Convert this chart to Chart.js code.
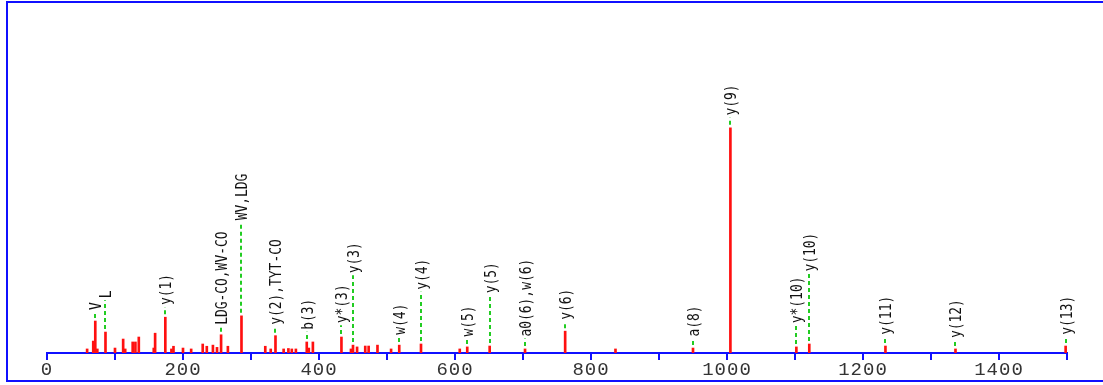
<!DOCTYPE html>
<html>
<head>
<meta charset="utf-8">
<script src="https://cdn.jsdelivr.net/npm/chart.js@4.4.1/dist/chart.umd.min.js"></script>
<style>
  html, body { margin: 0; padding: 0; background: #fff; overflow: hidden; }
  #wrap { position: relative; width: 1103px; height: 385px; }
</style>
</head>
<body>
<div id="wrap"><canvas id="spectrum" width="1103" height="385"></canvas></div>
<script>
// Fragment spectrum: peak m/z and relative intensity (%)
const peakMz = [
  59, 68, 71, 74, 86, 100, 112, 115, 126, 130, 135, 157, 159, 174, 183, 186,
  200, 212, 229, 235, 244, 250, 256, 266, 286, 321, 329, 336, 348, 355, 360, 366,
  382, 385, 391, 433, 447, 450, 456, 468, 473, 486, 506, 518, 550, 607, 618, 651,
  703, 762, 836, 950, 1005, 1102, 1121, 1233, 1336, 1498
];
const peakIntensity = [
  1.8, 5.3, 14.2, 1.8, 9.3, 2.2, 6.2, 1.8, 4.9, 4.9, 7.1, 2.2, 8.8, 15.9, 1.8, 3.0,
  2.2, 1.8, 4.0, 3.0, 3.5, 2.5, 8.1, 3.0, 16.5, 3.0, 1.8, 7.7, 1.8, 2.0, 1.8, 1.8,
  4.9, 2.2, 4.9, 7.1, 1.8, 3.5, 2.7, 3.1, 3.1, 3.5, 1.8, 3.5, 4.0, 1.8, 2.7, 3.1,
  1.8, 9.7, 1.8, 2.2, 100, 2.7, 4.0, 3.1, 1.8, 3.1
];

// Assigned fragment ions: m/z of the matched peak, ion name, and label elevation
const ionMz = [71, 86, 174, 256, 286, 336, 382, 433, 450, 518, 550, 618, 651, 703, 762, 950, 1005, 1102, 1121, 1233, 1336, 1498];
const ionLabel = ['V', 'L', 'y(1)', 'LDG-CO,WV-CO', 'WV,LDG', 'y(2),TYT-CO', 'b(3)', 'y*(3)', 'y(3)', 'w(4)', 'y(4)', 'w(5)', 'y(5)', 'a0(6),w(6)', 'y(6)', 'a(8)', 'y(9)', 'y*(10)', 'y(10)', 'y(11)', 'y(12)', 'y(13)'];
const ionLabelLevel = [18.6, 23.9, 20.9, 12.1, 58.5, 12.1, 9.9, 12.8, 35.0, 7.7, 27.6, 6.9, 26.1, 6.9, 14.3, 6.9, 105, 12.8, 35.7, 7.7, 6.2, 7.7];

// m/z axis
const mzMin = 0, mzMax = 1500, mzStep = 100, mzLabelStep = 200, mzLabelMax = 1400;

const BLUE = '#1010ff';
const RED = '#ff1010';
const GREEN = '#22cc22';

// Blue frame along the left, top and bottom of the drawing
const framePlugin = {
  id: 'frame',
  beforeDraw(chart) {
    const ctx = chart.ctx;
    ctx.save();
    ctx.fillStyle = BLUE;
    ctx.fillRect(6, 1, chart.width - 6, 2);
    ctx.fillRect(6, 1, 2, 381);
    ctx.fillRect(6, 380, chart.width - 6, 2);
    ctx.restore();
    ctx.letterSpacing = '1px';
  }
};

// Green dashed leader lines and rotated ion names above assigned peaks
const ionPlugin = {
  id: 'ions',
  afterDatasetsDraw(chart) {
    const ctx = chart.ctx;
    const xs = chart.scales.x, ys = chart.scales.y;
    ctx.save();
    ctx.letterSpacing = '0px';
    ionMz.forEach((mz, i) => {
      const idx = peakMz.indexOf(mz);
      const inten = idx >= 0 ? peakIntensity[idx] : 0;
      const x = Math.round(xs.getPixelForValue(mz));
      const yBar = ys.getPixelForValue(inten) - 3;
      const yLab = ys.getPixelForValue(ionLabelLevel[i]);
      ctx.strokeStyle = GREEN;
      ctx.lineWidth = 2;
      ctx.setLineDash([4, 3]);
      ctx.beginPath();
      ctx.moveTo(x, yBar);
      ctx.lineTo(x, yLab + 1);
      ctx.stroke();
      ctx.setLineDash([]);
      ctx.save();
      ctx.translate(x + 2, yLab - 1);
      ctx.rotate(-Math.PI / 2);
      ctx.scale(0.86, 1);
      ctx.fillStyle = '#111';
      ctx.font = '15px "DejaVu Sans Mono"';
      ctx.textAlign = 'left';
      ctx.textBaseline = 'middle';
      ctx.fillText(ionLabel[i], 0, 0);
      ctx.restore();
    });
    ctx.restore();
  }
};

new Chart(document.getElementById('spectrum'), {
  type: 'bar',
  data: {
    datasets: [{
      data: peakMz.map((mz, i) => ({ x: mz, y: peakIntensity[i] })),
      backgroundColor: RED,
      borderWidth: 0,
      barThickness: 2
    }]
  },
  options: {
    responsive: false,
    animation: false,
    devicePixelRatio: 1,
    layout: { padding: { left: 47, right: 36, top: 4, bottom: 6 } },
    plugins: { legend: { display: false }, tooltip: { enabled: false } },
    scales: {
      x: {
        type: 'linear',
        min: mzMin,
        max: mzMax,
        offset: false,
        afterBuildTicks(scale) {
          const t = [];
          for (let v = mzMin; v <= mzMax; v += mzStep) t.push({ value: v });
          scale.ticks = t;
        },
        ticks: {
          autoSkip: false,
          maxRotation: 0,
          padding: 0,
          color: '#333',
          font: { family: '"Liberation Mono"', size: 19, lineHeight: 1 },
          callback: (v) => (v % mzLabelStep === 0 && v <= mzLabelMax) ? String(v) : ''
        },
        grid: {
          display: true,
          offset: false,
          drawOnChartArea: false,
          drawTicks: true,
          tickLength: 7,
          color: BLUE,
          lineWidth: 2
        },
        border: { display: true, color: BLUE, width: 2 }
      },
      y: {
        display: false,
        min: 0,
        max: 155
      }
    }
  },
  plugins: [framePlugin, ionPlugin]
});
</script>
</body>
</html>
